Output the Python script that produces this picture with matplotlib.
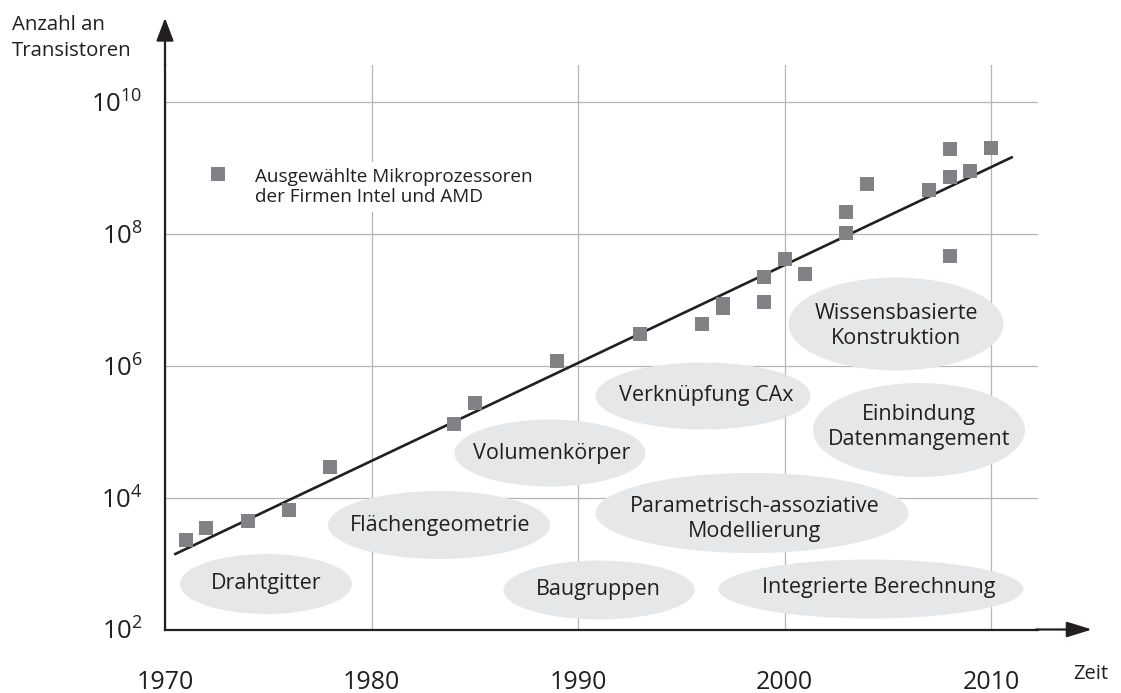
import matplotlib
matplotlib.use("Agg")
import matplotlib.pyplot as plt
from matplotlib.patches import Ellipse
from matplotlib.ticker import FixedLocator, NullLocator

plt.rcParams['font.family'] = ['Open Sans', 'DejaVu Sans']
plt.rcParams['text.color'] = '#231f20'

# Daten: ausgewaehlte Mikroprozessoren (Jahr, Anzahl Transistoren)
years = [1971, 1972, 1974, 1976, 1978, 1984, 1985, 1989, 1993, 1996,
         1997, 1997, 1999, 1999, 2000, 2001, 2003, 2003, 2004, 2007,
         2008, 2008, 2008, 2009, 2010]
counts = [2300, 3500, 4400, 6500, 29000, 131000, 275000, 1.2e6, 3.1e6, 4.3e6,
          7.5e6, 8.8e6, 9.3e6, 22e6, 42e6, 25e6, 105e6, 220e6, 580e6, 460e6,
          47e6, 730e6, 1.95e9, 904e6, 2.0e9]

# Trendlinie (Moore)
trend_years = [1970.5, 2011.0]
trend_counts = [1.4e3, 1.46e9]

x_ticks = [1970, 1980, 1990, 2000, 2010]
y_ticks = [1e2, 1e4, 1e6, 1e8, 1e10]

bubble_labels = ["Drahtgitter", "Flächengeometrie", "Volumenkörper", "Baugruppen",
                 "Verknüpfung CAx", "Einbindung\nDatenmangement",
                 "Parametrisch-assoziative\nModellierung", "Integrierte Berechnung",
                 "Wissensbasierte\nKonstruktion"]

legend_text = "Ausgewählte Mikroprozessoren\nder Firmen Intel und AMD"

# Layout in Bildpixeln (x von links, y von oben)
W, H = 1121, 693
bubble_boxes = [(266, 584, 172, 60), (439, 525, 222, 68), (550, 453, 191, 67),
                (599, 590, 191, 59), (703, 396, 215, 67), (919, 430, 212, 94),
                (752, 513, 313, 80), (871, 589, 305, 59), (896, 324, 215, 93)]
bubble_text_pos = [(266, 584), (440, 526), (552, 453), (598, 590), (706, 395),
                   (919, 427), (755, 519), (879, 588), (896, 326)]

dark = '#231f20'
grey = '#818286'
fill = '#e6e7e8'


def fig_xy(x, y):
    return x / W, 1 - y / H


fig = plt.figure(figsize=(W / 100, H / 100), dpi=100)
x0, y0, x1, y1 = 165, 629.5, 1038, 65
ax = fig.add_axes([x0 / W, 1 - y0 / H, (x1 - x0) / W, (y0 - y1) / H])

px_per_year = 20.65
px_per_decade = 65.9
ax.set_yscale('log')
ax.set_xlim(1970, 1970 + (x1 - x0) / px_per_year)
ax.set_ylim(1e2, 10 ** (2 + (y0 - y1) / px_per_decade))

ax.xaxis.set_major_locator(FixedLocator(x_ticks))
ax.set_xticklabels([str(t) for t in x_ticks])
ax.yaxis.set_major_locator(FixedLocator(y_ticks))
ax.yaxis.set_minor_locator(NullLocator())
ax.tick_params(axis='x', length=0, pad=29, labelsize=18, colors=dark)
ax.tick_params(axis='y', length=0, pad=16, labelsize=18.5, colors=dark)

ax.grid(True, color='#b5b5b5', lw=0.9, zorder=0)
ax.set_axisbelow(True)
for s in ['top', 'right']:
    ax.spines[s].set_visible(False)
for s in ['left', 'bottom']:
    ax.spines[s].set_color(dark)
    ax.spines[s].set_linewidth(1.6)

# Pfeilspitzen der Achsen
ax.annotate('', xy=(165, H - 18), xytext=(165, H - 66), xycoords='figure pixels',
            textcoords='figure pixels',
            arrowprops=dict(arrowstyle='-|>,head_length=1.0,head_width=0.38',
                            mutation_scale=14, lw=1.6, color=dark,
                            shrinkA=0, shrinkB=0))
ax.annotate('', xy=(1092, H - 629.5), xytext=(1036, H - 629.5), xycoords='figure pixels',
            textcoords='figure pixels',
            arrowprops=dict(arrowstyle='-|>,head_length=1.1,head_width=0.34',
                            mutation_scale=14, lw=1.6, color=dark,
                            shrinkA=0, shrinkB=0))

# Ellipsen mit Themen
for label, (cx, cy, w, h), (tx, ty) in zip(bubble_labels, bubble_boxes, bubble_text_pos):
    e = Ellipse(fig_xy(cx, cy), w / W, h / H, transform=fig.transFigure,
                facecolor=fill, edgecolor='none', zorder=1)
    ax.add_patch(e)
    ax.text(*fig_xy(tx, ty), label, transform=fig.transFigure, ha='center',
            va='center', fontsize=15.5, linespacing=1.3, zorder=2)

ax.plot(trend_years, trend_counts, color=dark, lw=1.9, zorder=3)
ax.scatter(years, counts, marker='s', s=90, color=grey, linewidths=0, zorder=4)

# Legende
ax.scatter(*fig_xy(217.5, 174), marker='s', s=90, color=grey, linewidths=0,
           transform=fig.transFigure, zorder=4, clip_on=False)
ax.text(*fig_xy(255, 187), legend_text, transform=fig.transFigure, ha='left',
        va='center', fontsize=13.6, linespacing=1.2, zorder=2,
        bbox=dict(facecolor='white', edgecolor='none', pad=4))

# Achsenbeschriftungen
fig.text(*fig_xy(12, 38), "Anzahl an\nTransistoren", ha='left', va='center',
         fontsize=14.7, linespacing=1.4)
fig.text(*fig_xy(1073, 674), "Zeit", ha='left', va='center', fontsize=14.5)

fig.savefig('out.png', dpi=100)
